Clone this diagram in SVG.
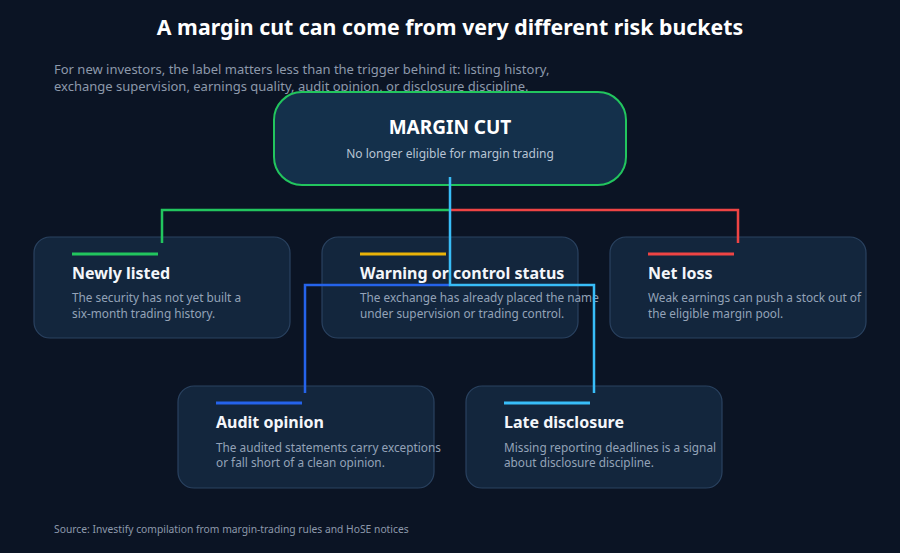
<svg xmlns="http://www.w3.org/2000/svg" width="900" height="553" viewBox="0 0 900 553">
<style>
text{font-family:"Noto Sans","Liberation Sans",sans-serif}
.card{fill:#13263d;stroke:#2a4260;stroke-width:1.2}
.ct{fill:#f4f6fa;font-size:16px;font-weight:bold}
.cd{fill:#94a3b8;font-size:11.8px}
.bar{stroke-width:3}
.c{fill:none;stroke-width:2.5}
</style>
<rect width="900" height="553" fill="#0b1424"/>
<text x="450" y="35" text-anchor="middle" fill="#fff" font-size="21.3" font-weight="bold">A margin cut can come from very different risk buckets</text>
<text x="54" y="74" fill="#8d99ab" font-size="13">For new investors, the label matters less than the trigger behind it: listing history,</text>
<text x="54" y="91" fill="#8d99ab" font-size="13">exchange supervision, earnings quality, audit opinion, or disclosure discipline.</text>
<g id="root"><rect x="274" y="92" width="352" height="93" rx="28" fill="#14304b" stroke="#22c55e" stroke-width="2"/>
<text x="450" y="134" text-anchor="middle" fill="#fff" font-size="19" font-weight="bold">MARGIN CUT</text>
<text x="450" y="158" text-anchor="middle" fill="#b8c4d4" font-size="12">No longer eligible for margin trading</text></g>
<g id="n1"><rect class="card" x="34" y="237" width="256" height="101" rx="16"/><line class="bar" x1="72" y1="254" x2="158" y2="254" stroke="#22c55e"/><text class="ct" x="72" y="279">Newly listed</text><text class="cd" x="72" y="302">The security has not yet built a</text><text class="cd" x="72" y="318">six-month trading history.</text></g>
<g id="n2"><rect class="card" x="322" y="237" width="256" height="101" rx="16"/><line class="bar" x1="360" y1="254" x2="446" y2="254" stroke="#eab308"/><text class="ct" x="360" y="279">Warning or control status</text><text class="cd" x="360" y="302">The exchange has already placed the name</text><text class="cd" x="360" y="318">under supervision or trading control.</text></g>
<g id="n3"><rect class="card" x="610" y="237" width="256" height="101" rx="16"/><line class="bar" x1="648" y1="254" x2="734" y2="254" stroke="#ef4444"/><text class="ct" x="648" y="279">Net loss</text><text class="cd" x="648" y="302">Weak earnings can push a stock out of</text><text class="cd" x="648" y="318">the eligible margin pool.</text></g>
<g id="n4"><rect class="card" x="178" y="386" width="256" height="102" rx="16"/><line class="bar" x1="216" y1="403" x2="302" y2="403" stroke="#2563eb"/><text class="ct" x="216" y="428">Audit opinion</text><text class="cd" x="216" y="452">The audited statements carry exceptions</text><text class="cd" x="216" y="467">or fall short of a clean opinion.</text></g>
<g id="n5"><rect class="card" x="466" y="386" width="256" height="102" rx="16"/><line class="bar" x1="504" y1="403" x2="590" y2="403" stroke="#38bdf8"/><text class="ct" x="504" y="428">Late disclosure</text><text class="cd" x="504" y="452">Missing reporting deadlines is a signal</text><text class="cd" x="504" y="467">about disclosure discipline.</text></g>
<g id="connectors">
<path class="c" d="M450 210H162V243" stroke="#22c55e"/>
<path class="c" d="M450 210H738V243" stroke="#ef4444"/>
<path class="c" d="M450 285H305V393" stroke="#2563eb"/>
<path class="c" d="M450 177V285H594V393" stroke="#38bdf8"/>
</g>
<text x="54" y="533" fill="#8d99ab" font-size="10.3">Source: Investify compilation from margin-trading rules and HoSE notices</text>
</svg>
